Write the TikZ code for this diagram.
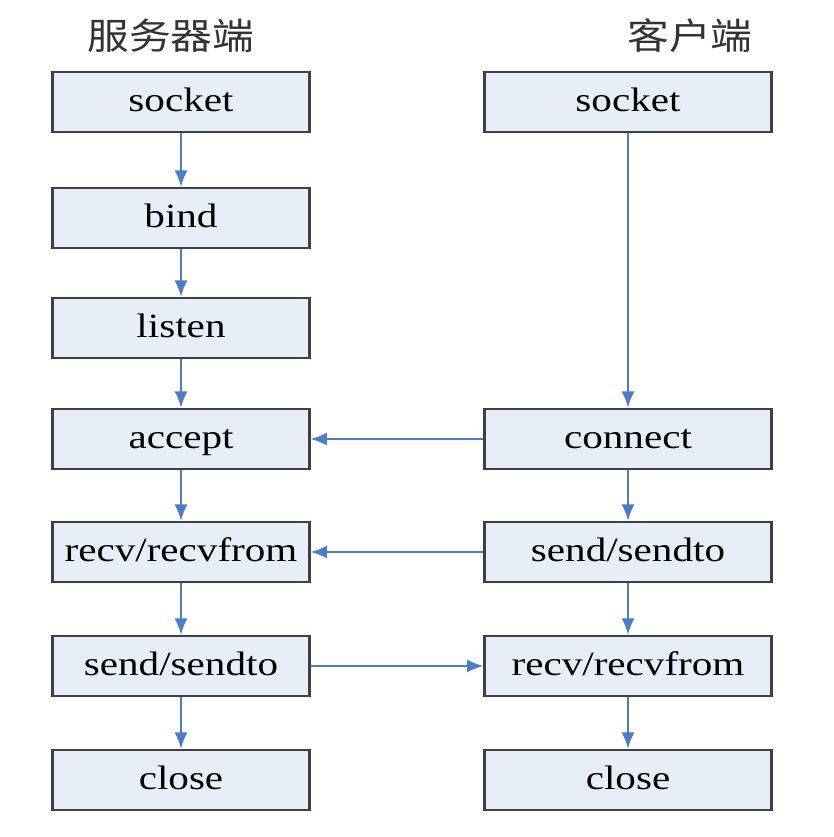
\documentclass[tikz,border=0pt]{standalone}
\usepackage{fontspec}
\setmainfont{Liberation Serif}[FakeStretch=1.21]
\newfontfamily\cjk{Noto Sans CJK SC}[FakeStretch=1.15]
\usetikzlibrary{arrows.meta}
\definecolor{boxfill}{HTML}{E8EEF8}
\definecolor{flowblue}{HTML}{4A7CC8}
\tikzset{
  box/.style={draw=black!75, line width=2pt, fill=boxfill, minimum height=1.8cm,
    inner sep=0pt, text height=20pt, text depth=3pt, font=\fontsize{29}{33}\selectfont},
  srvbox/.style={box, minimum width=7.7cm},
  clibox/.style={box, minimum width=8.6cm},
  flow/.style={draw=flowblue, line width=1.6pt, -{Latex[length=14pt,width=11pt]}},
  title/.style={font=\cjk\fontsize{31}{34}\selectfont, text=black!80}
}
\begin{document}
\begin{tikzpicture}[x=0.03cm, y=-0.03cm]
\useasboundingbox (0,0) rectangle (833,837);
\node[title] (srvt) at (171,36) {服务器端};
\node[title] (clit) at (690,36) {客户端};
\node[srvbox] (srv0) at (181,102) {socket};
\node[srvbox] (srv1) at (181,218) {bind};
\node[srvbox] (srv2) at (181,328) {listen};
\node[srvbox] (srv3) at (181,439) {accept};
\node[srvbox] (srv4) at (181,552) {recv/recvfrom};
\node[srvbox] (srv5) at (181,666) {send/sendto};
\node[srvbox] (srv6) at (181,780) {close};
\node[clibox] (cli0) at (628,102) {socket};
\node[clibox] (cli1) at (628,439) {connect};
\node[clibox] (cli2) at (628,552) {send/sendto};
\node[clibox] (cli3) at (628,666) {recv/recvfrom};
\node[clibox] (cli4) at (628,780) {close};
\draw[flow] (srv0) -- (srv1);
\draw[flow] (srv1) -- (srv2);
\draw[flow] (srv2) -- (srv3);
\draw[flow] (srv3) -- (srv4);
\draw[flow] (srv4) -- (srv5);
\draw[flow] (srv5) -- (srv6);
\draw[flow] (cli0) -- (cli1);
\draw[flow] (cli1) -- (cli2);
\draw[flow] (cli2) -- (cli3);
\draw[flow] (cli3) -- (cli4);
\draw[flow] (cli1) -- (srv3);
\draw[flow] (cli2) -- (srv4);
\draw[flow] (srv5) -- (cli3);
\end{tikzpicture}
\end{document}
